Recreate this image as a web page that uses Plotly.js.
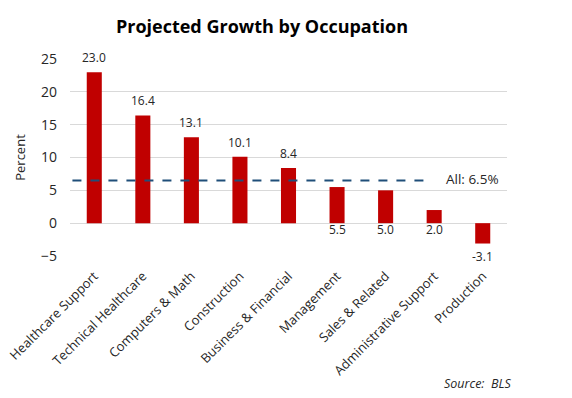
<!DOCTYPE html>
<html>
<head>
<meta charset="utf-8">
<script src="https://cdn.plot.ly/plotly-3.0.1.min.js"></script>
<style>html,body{margin:0;padding:0;background:#fff;}#chart{width:572px;height:398px;}</style>
</head>
<body>
<div id="chart"></div>
<script>
const categories = ["Healthcare Support","Technical Healthcare","Computers & Math","Construction","Business & Financial","Management","Sales & Related","Administrative Support","Production"];
const growth = [23.0, 16.4, 13.1, 10.1, 8.4, 5.5, 5.0, 2.0, -3.1];
const allOccupations = [6.5];
const yTicks = [-5, 0, 5, 10, 15, 20, 25];

const FONT = "Open Sans, Noto Sans, sans-serif";

const annotations = growth.map((v, i) => {
  let y, anchor, shift;
  if (v >= 8) { y = v; anchor = "bottom"; shift = 4; }
  else if (v >= 0) { y = 0; anchor = "top"; shift = 4; }
  else { y = v; anchor = "top"; shift = -2; }
  return {x: categories[i], y: y, xref: "x", yref: "y", text: v.toFixed(1), showarrow: false,
          yanchor: anchor, yshift: shift, font: {family: FONT, size: 12, color: "#262626"}};
});
annotations.push({x: 7.2, y: allOccupations[0], xref: "x", yref: "y", xanchor: "left", yanchor: "middle", yshift: 1,
  text: "All: " + allOccupations[0].toFixed(1) + "%", showarrow: false, font: {family: FONT, size: 13.5, color: "#262626"}});
annotations.push({x: 1, y: 0, xref: "paper", yref: "paper", xanchor: "right", yanchor: "top", xshift: 6, yshift: -117,
  text: "<i>Source:  BLS</i>", showarrow: false, font: {family: FONT, size: 12.5, color: "#262626"}});

const data = [{
  type: "bar", x: categories, y: growth,
  marker: {color: "#c00000"}, hoverinfo: "x+y", cliponaxis: false
}];

const layout = {
  width: 572, height: 398,
  margin: {l: 70, r: 65, t: 59, b: 142},
  paper_bgcolor: "#fff", plot_bgcolor: "#fff",
  title: {text: "<b>Projected Growth by Occupation</b>", x: 0.458, xanchor: "center", y: 0.932, yanchor: "middle",
          font: {family: FONT, size: 18, color: "#000"}},
  bargap: 0.69,
  showlegend: false,
  xaxis: {
    type: "category", tickangle: -45, showgrid: false, zeroline: false, showline: false, ticks: "",
    tickfont: {family: FONT, size: 13, color: "#262626"}, range: [-0.5, 8.5], ticklabelstandoff: 9
  },
  yaxis: {
    range: [-5, 25], tickvals: yTicks, showgrid: true, gridcolor: "#d9d9d9", gridwidth: 1,
    zeroline: true, zerolinecolor: "#d9d9d9", zerolinewidth: 1, showline: false, ticks: "",
    ticklen: 0, tickfont: {family: FONT, size: 14, color: "#262626"}, ticklabelstandoff: 12,
    title: {text: "Percent", font: {family: FONT, size: 13, color: "#262626"}, standoff: 12}
  },
  shapes: [{type: "line", xref: "x", yref: "y", x0: -0.45, x1: 6.9, y0: allOccupations[0], y1: allOccupations[0],
            line: {color: "#1f4e79", width: 2, dash: "dash"}}],
  annotations: annotations
};

Plotly.newPlot("chart", data, layout, {displayModeBar: false, staticPlot: true});
</script>
</body>
</html>
